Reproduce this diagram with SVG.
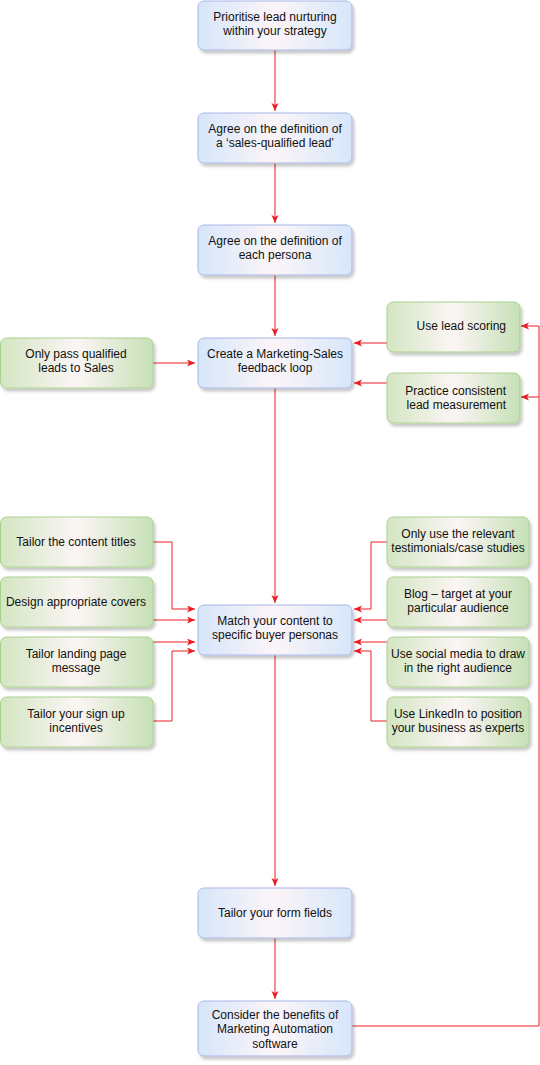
<svg xmlns="http://www.w3.org/2000/svg" width="540" height="1065" viewBox="0 0 540 1065">
<defs>
  <linearGradient id="gBlue" x1="0" y1="0" x2="1" y2="0">
    <stop offset="0" stop-color="#d6e6fa"/>
    <stop offset="0.5" stop-color="#fcf5f8"/>
    <stop offset="1" stop-color="#d6e6fa"/>
  </linearGradient>
  <linearGradient id="gGreen" x1="0" y1="0" x2="1" y2="0">
    <stop offset="0" stop-color="#d3e6c2"/>
    <stop offset="0.5" stop-color="#fcf5f5"/>
    <stop offset="1" stop-color="#c6e0b6"/>
  </linearGradient>
  <filter id="sh" x="-10%" y="-10%" width="125%" height="140%">
    <feDropShadow dx="2" dy="3" stdDeviation="1.5" flood-color="#000" flood-opacity="0.22"/>
  </filter>
  <marker id="arr" markerWidth="9" markerHeight="8" refX="8" refY="3.5" orient="auto" markerUnits="userSpaceOnUse">
    <path d="M0,0 L8,3.5 L0,7 L2,3.5 z" fill="#ec1c24"/>
  </marker>
</defs>
<style>
  .blue{fill:url(#gBlue);stroke:#a9b7e6;stroke-width:1;filter:url(#sh)}
  .green{fill:url(#gGreen);stroke:#a9d18e;stroke-width:1;filter:url(#sh)}
  text{font-family:"Liberation Sans",Arial,sans-serif;font-size:12px;fill:#111}
  .c{text-anchor:middle}
  .r{text-anchor:end}
  .e{fill:none;stroke:#ec1c24;stroke-width:1}
</style>

<g id="connectors">
  <path class="e" d="M275,50 V111" marker-end="url(#arr)"/>
  <path class="e" d="M275,163 V223" marker-end="url(#arr)"/>
  <path class="e" d="M275,275 V336" marker-end="url(#arr)"/>
  <path class="e" d="M275,388 V603" marker-end="url(#arr)"/>
  <path class="e" d="M275,655 V886" marker-end="url(#arr)"/>
  <path class="e" d="M275,938 V999" marker-end="url(#arr)"/>
  <path class="e" d="M153,363 H195" marker-end="url(#arr)"/>
  <path class="e" d="M387,343 H354" marker-end="url(#arr)"/>
  <path class="e" d="M387,383 H354" marker-end="url(#arr)"/>
  <path class="e" d="M153,542 H172 V609 H195" marker-end="url(#arr)"/>
  <path class="e" d="M153,620 H195" marker-end="url(#arr)"/>
  <path class="e" d="M153,642 H195" marker-end="url(#arr)"/>
  <path class="e" d="M153,721 H172 V651 H195" marker-end="url(#arr)"/>
  <path class="e" d="M387,542 H371 V609 H354" marker-end="url(#arr)"/>
  <path class="e" d="M387,620 H354" marker-end="url(#arr)"/>
  <path class="e" d="M387,642 H354" marker-end="url(#arr)"/>
  <path class="e" d="M387,721 H371 V651 H354" marker-end="url(#arr)"/>
  <path class="e" d="M352,1026 H539 V326 H521" marker-end="url(#arr)"/>
  <path class="e" d="M539,397 H521" marker-end="url(#arr)"/>
</g>

<g id="n1"><rect class="blue" x="198" y="1" width="154" height="49" rx="6"/>
  <text class="c" x="275" y="21">Prioritise lead nurturing</text>
  <text class="c" x="275" y="35">within your strategy</text></g>
<g id="n2"><rect class="blue" x="198" y="113" width="154" height="50" rx="6"/>
  <text class="c" x="275" y="133">Agree on the definition of</text>
  <text class="c" x="275" y="147">a ‘sales-qualified lead’</text></g>
<g id="n3"><rect class="blue" x="198" y="225" width="154" height="50" rx="6"/>
  <text class="c" x="275" y="245">Agree on the definition of</text>
  <text class="c" x="275" y="259">each persona</text></g>
<g id="n4"><rect class="blue" x="198" y="338" width="154" height="50" rx="6"/>
  <text class="c" x="275" y="358">Create a Marketing-Sales</text>
  <text class="c" x="275" y="372">feedback loop</text></g>
<g id="n5"><rect class="blue" x="198" y="605" width="154" height="50" rx="6"/>
  <text class="c" x="275" y="625">Match your content to</text>
  <text class="c" x="275" y="639">specific buyer personas</text></g>
<g id="n6"><rect class="blue" x="198" y="888" width="154" height="50" rx="6"/>
  <text class="c" x="275" y="917">Tailor your form fields</text></g>
<g id="n7"><rect class="blue" x="198" y="1001" width="154" height="55" rx="6"/>
  <text class="c" x="275" y="1019">Consider the benefits of</text>
  <text class="c" x="275" y="1033">Marketing Automation</text>
  <text class="c" x="275" y="1048">software</text></g>

<g id="g_onlypass"><rect class="green" x="0.5" y="338" width="152.5" height="50" rx="6"/>
  <text class="c" x="76" y="358">Only pass qualified</text>
  <text class="c" x="76" y="372">leads to Sales</text></g>
<g id="g_leadscoring"><rect class="green" x="387" y="302" width="133" height="50" rx="6"/>
  <text class="r" x="506" y="330">Use lead scoring</text></g>
<g id="g_practice"><rect class="green" x="387" y="373" width="133" height="50" rx="6"/>
  <text class="r" x="506" y="395">Practice consistent</text>
  <text class="r" x="506" y="409">lead measurement</text></g>

<g id="g_titles"><rect class="green" x="0.5" y="517" width="152.5" height="50" rx="6"/>
  <text class="c" x="76" y="546">Tailor the content titles</text></g>
<g id="g_covers"><rect class="green" x="0.5" y="577" width="152.5" height="50" rx="6"/>
  <text class="c" x="76" y="606">Design appropriate covers</text></g>
<g id="g_landing"><rect class="green" x="0.5" y="637" width="152.5" height="50" rx="6"/>
  <text class="c" x="76" y="658">Tailor landing page</text>
  <text class="c" x="76" y="672">message</text></g>
<g id="g_signup"><rect class="green" x="0.5" y="697" width="152.5" height="50" rx="6"/>
  <text class="c" x="76" y="718">Tailor your sign up</text>
  <text class="c" x="76" y="732">incentives</text></g>

<g id="g_testimonials"><rect class="green" x="387" y="517" width="142" height="50" rx="6"/>
  <text class="c" x="458" y="538">Only use the relevant</text>
  <text class="c" x="458" y="552">testimonials/case studies</text></g>
<g id="g_blog"><rect class="green" x="387" y="577" width="142" height="50" rx="6"/>
  <text class="c" x="458" y="598">Blog – target at your</text>
  <text class="c" x="458" y="612">particular audience</text></g>
<g id="g_social"><rect class="green" x="387" y="637" width="142" height="50" rx="6"/>
  <text class="c" x="458" y="658">Use social media to draw</text>
  <text class="c" x="458" y="672">in the right audience</text></g>
<g id="g_linkedin"><rect class="green" x="387" y="697" width="142" height="50" rx="6"/>
  <text class="c" x="458" y="718">Use LinkedIn to position</text>
  <text class="c" x="458" y="732">your business as experts</text></g>
</svg>
